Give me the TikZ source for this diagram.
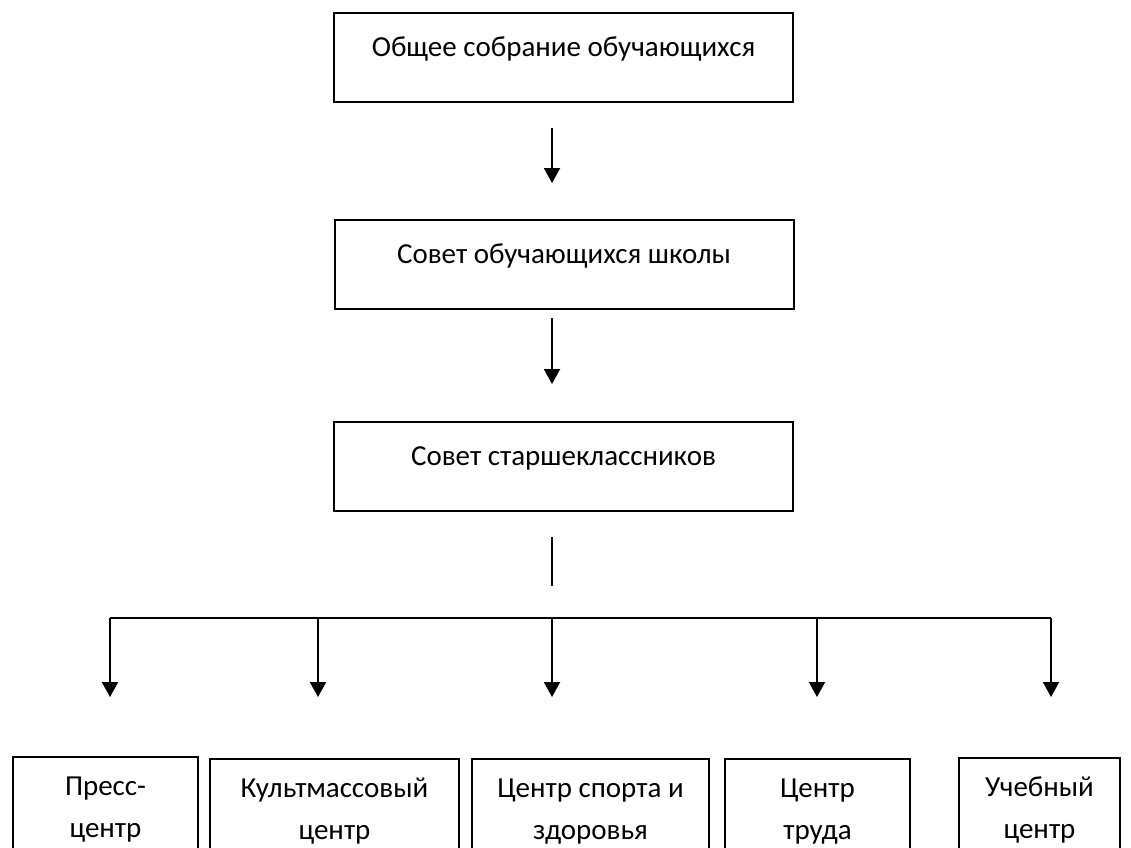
\documentclass[tikz,border=0pt]{standalone}
\usepackage{fontspec}
\setmainfont{Carlito}
\usetikzlibrary{arrows.meta}
\tikzset{
  topbox/.style={draw, line width=2pt, inner sep=0pt, minimum width=459pt,
    text height=43pt, text depth=46pt, anchor=base},
  lowbox/.style={draw, line width=1.2pt, inner sep=0pt, align=center,
    text height=80pt, text depth=80pt, anchor=base},
  arr/.style={line width=2pt, -{Triangle[width=16pt,length=15pt]}},
  plain/.style={line width=2pt}
}
\begin{document}
\begin{tikzpicture}[x=1pt,y=-1pt,font=\fontsize{29}{42}\selectfont]
\useasboundingbox (0,0) rectangle (1131,847);
\clip (0,0) rectangle (1131,847);
% top boxes
\node[topbox] (b1) at (563.5,56) {Общее собрание обучающихся};
\node[topbox] (b2) at (564,263) {Совет обучающихся школы};
\node[topbox] (b3) at (563.5,465) {Совет старшеклассников};
% arrows between top boxes
\coordinate (a1s) at (552,128);
\coordinate (a1e) at (552,183);
\coordinate (a2s) at (552,318);
\coordinate (a2e) at (552,384);
\draw[arr] (a1s) -- (a1e);
\draw[arr] (a2s) -- (a2e);
% short vertical line
\coordinate (vs) at (552,537);
\coordinate (ve) at (552,586);
\draw[plain] (vs) -- (ve);
% bar
\coordinate (h1) at (110,618);
\coordinate (h2) at (318,618);
\coordinate (h3) at (552,618);
\coordinate (h4) at (817,618);
\coordinate (h5) at (1051,618);
\draw[plain] (h1) -- (h5);
\foreach \i/\x in {1/110,2/318,3/552,4/817,5/1051}{
  \coordinate (t\i) at (\x,697);
  \draw[arr] (h\i) -- (t\i);
}
% bottom boxes
\node[lowbox, minimum width=185pt] (c1) at (105.5,837) {Пресс-\\центр};
\node[lowbox, minimum width=249pt] (c2) at (334.5,839) {Культмассовый\\центр};
\node[lowbox, minimum width=237pt] (c3) at (590.5,839) {Центр спорта и\\здоровья};
\node[lowbox, minimum width=185pt] (c4) at (817.5,839) {Центр\\труда};
\node[lowbox, minimum width=161pt] (c5) at (1039.5,838) {Учебный\\центр};
\end{tikzpicture}
\end{document}
